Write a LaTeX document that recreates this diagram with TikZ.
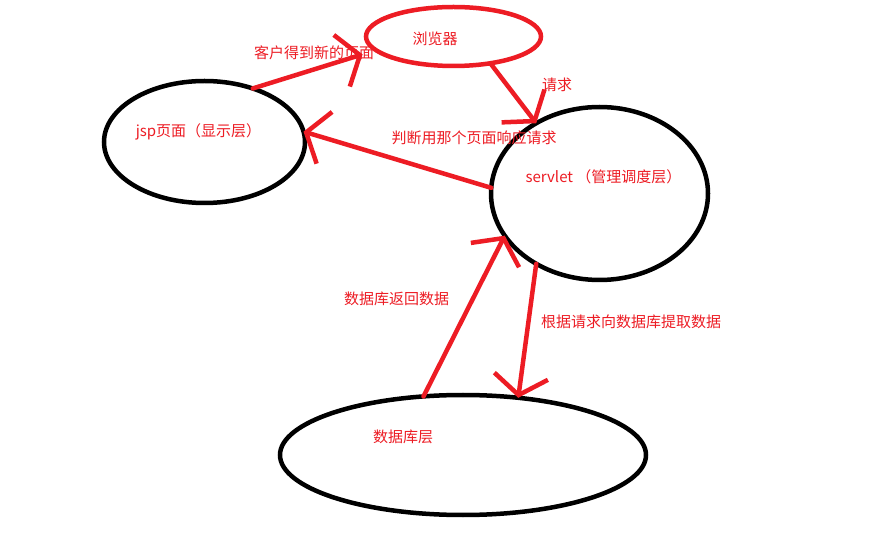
\documentclass[tikz,border=0pt]{standalone}
\usepackage{fontspec}
\setmainfont{Noto Sans CJK SC}
\usetikzlibrary{arrows.meta,shapes.geometric}
\definecolor{pred}{RGB}{237,28,36}
\begin{document}
\begin{tikzpicture}[x=1pt,y=-1pt,
  oval/.style={ellipse,draw,line width=4.5pt,inner sep=0pt,outer sep=0pt},
  lbl/.style={text=pred,font=\fontsize{15}{17}\selectfont,inner sep=0pt},
  flow/.style={draw=pred,line width=4.5pt,line cap=round,-{Straight Barb[length=19pt,width=54pt]}}
]
\useasboundingbox[fill=white] (0,0) rectangle (881,534);
% layers
\node[oval,draw=pred,minimum width=175pt,minimum height=59pt] (browser) at (453.5,36.5) {};
\node[oval,minimum width=201pt,minimum height=122pt] (jsp) at (204.5,142) {};
\node[oval,minimum width=217pt,minimum height=173pt] (servlet) at (599.5,193.5) {};
\node[oval,minimum width=366pt,minimum height=120pt] (db) at (463,455) {};
% texts
\node[lbl] (tbrowser) at (435,39) {浏览器};
\node[lbl] (tjsp) at (198.5,132) {jsp页面（显示层）};
\node[lbl] (tservlet) at (603.5,177) {servlet （管理调度层）};
\node[lbl] (tdb) at (403,437) {数据库层};
\node[lbl] (l1) at (314,53) {客户得到新的页面};
\node[lbl] (l2) at (557,85) {请求};
\node[lbl] (l3) at (474,138) {判断用那个页面响应请求};
\node[lbl] (l4) at (396.5,299) {数据库返回数据};
\node[lbl] (l5) at (631,322) {根据请求向数据库提取数据};
% connectors
\draw[flow,shorten >=14pt] (jsp.48) -- (browser.190);
\draw[flow] (browser.-36) -- (servlet.132);
\draw[flow] (servlet.177) -- (jsp.6);
\draw[flow] (db.124) -- (servlet.204);
\draw[flow] (servlet.228) -- (db.46);
\end{tikzpicture}
\end{document}
